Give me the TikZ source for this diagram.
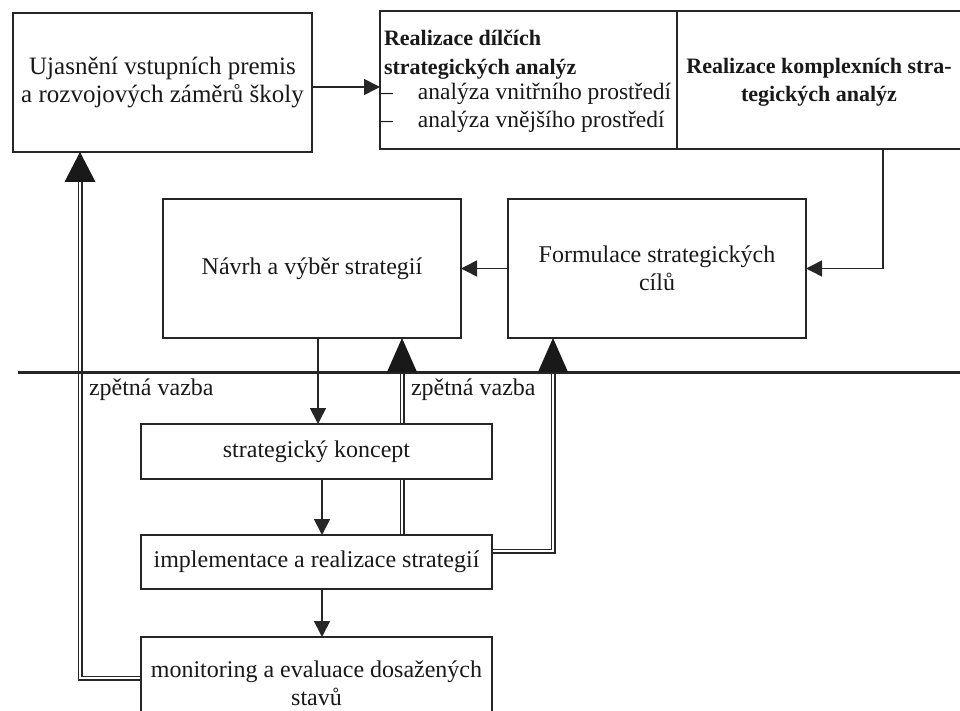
\documentclass[tikz,border=0pt]{standalone}
\usepackage{fontspec}
\setmainfont{Liberation Serif}
\usetikzlibrary{arrows.meta,backgrounds}

\begin{document}
\begin{tikzpicture}[x=1pt,y=-1pt,
  box/.style={draw=black!85, line width=1.9pt, fill=white, outer sep=0pt, inner sep=2pt,
    align=center, text=black!90, anchor=north west, font=\fontsize{24}{28}\selectfont},
  lbl/.style={text=black!90, inner sep=0pt, outer sep=0pt, font=\fontsize{24}{28}\selectfont},
  boldlbl/.style={lbl, font=\fontsize{22}{28}\selectfont\bfseries},
  itemlbl/.style={lbl, font=\fontsize{23.5}{28}\selectfont},
  arr/.style={draw=black!85, line width=1.6pt, -{Triangle[length=16pt,width=16pt]}},
  dbl/.style={draw=black!85, line width=1.2pt, double=white, double distance=2.6pt},
  tipfill/.style={fill=black!90},
  divider/.style={draw=black!85, line width=3.2pt}
]
\useasboundingbox (0,0) rectangle (960,711);

% upper row
\node[box, minimum width=299pt, minimum height=139pt, font=\fontsize{25}{28}\selectfont] (ujas) at (13,13)
  {Ujasnění vstupních premis\\a rozvojových záměrů školy};
\node[box, minimum width=297pt, minimum height=138pt] (dilci) at (380,11) {};
\node[box, minimum width=290pt, minimum height=138pt] (komplex) at (677,11) {};

\node[boldlbl, anchor=base west] (d1) at (384,46) {Realizace dílčích};
\node[boldlbl, anchor=base west] (d2) at (384,75) {strategických analýz};
\node[itemlbl, anchor=base west] (d3) at (381,100) {\makebox[37pt][l]{–}analýza vnitřního prostředí};
\node[itemlbl, anchor=base west] (d4) at (381,128) {\makebox[37pt][l]{–}analýza vnějšího prostředí};
\node[boldlbl, align=center] (k1) at (819,82) {Realizace komplexních stra-\\tegických analýz};

% middle row
\node[box, minimum width=298pt, minimum height=139pt] (navrh) at (163,199) {Návrh a výběr strategií};
\node[box, minimum width=298pt, minimum height=139pt] (form) at (508,199) {Formulace strategických\\cílů};

% lower column
\node[box, minimum width=351pt, minimum height=55pt] (koncept) at (141,424) {strategický koncept};
\node[box, minimum width=351pt, minimum height=54pt] (impl) at (141,535) {implementace a realizace strategií};
\node[box, minimum width=351pt, minimum height=92pt] (mon) at (141,637) {monitoring a evaluace dosažených\\stavů};

\node[lbl, anchor=base west] (zv1) at (89,395) {zpětná vazba};
\node[lbl, anchor=base west] (zv2) at (411,395) {zpětná vazba};

% tips of the feedback arrows
\coordinate (t1) at ([xshift=-82.5pt]ujas.south);
\coordinate (t2) at ([xshift=90pt]navrh.south);
\coordinate (t3) at ([xshift=-104pt]form.south);

\begin{pgfonlayer}{background}
  % feedback loops (double lines)
  \draw[dbl] ([yshift=5pt]mon.west) -| ([yshift=-30pt]t1);
  \draw[dbl] ([xshift=85.5pt]impl.north) -- ([yshift=-34pt]t2);
  \draw[dbl] ([yshift=11pt]impl.east) -| ([yshift=-34pt]t3);

  % main flow
  \draw[arr] ([yshift=-4.5pt]ujas.east) -- ([yshift=-4.5pt]ujas.east -| dilci.west);
  \draw[arr] ([xshift=61pt]komplex.south) |- (form.east);
  \draw[arr] (form.west) -- (navrh.east);
  \draw[arr] ([xshift=1.5pt]koncept.north |- navrh.south) -- ([xshift=1.5pt]koncept.north);
  \draw[arr] ([xshift=5.5pt]koncept.south) -- ([xshift=5.5pt]impl.north);
  \draw[arr] ([xshift=5.5pt]impl.south) -- ([xshift=5.5pt]mon.north);
\end{pgfonlayer}

% divider between strategy design and realization
\coordinate (divL) at (18,372.5);
\coordinate (divR) at (968,372.5);
\draw[divider] (divL) -- (divR);

% large arrow heads of the feedback loops
\fill[tipfill] (t1) -- ++(-15.5,30) -- ++(31,0) -- cycle;
\fill[tipfill] (t2) -- ++(-15,34) -- ++(30,0) -- cycle;
\fill[tipfill] (t3) -- ++(-15,34) -- ++(30,0) -- cycle;
\end{tikzpicture}
\end{document}
